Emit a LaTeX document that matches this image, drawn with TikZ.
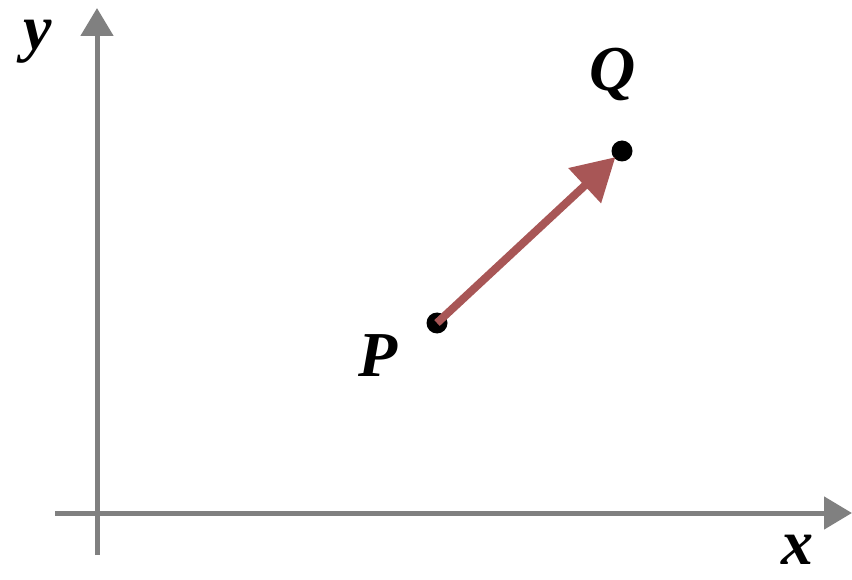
\documentclass[tikz,border=0pt]{standalone}
\usepackage{fontspec}
\setmainfont{Liberation Serif}
\usetikzlibrary{arrows.meta}
\definecolor{axisgray}{HTML}{808080}
\definecolor{vecred}{HTML}{A85656}
\tikzset{
  axis/.style={draw=axisgray, line width=5pt, -{Triangle[length=28pt,width=32pt]}},
  vec/.style={draw=vecred, line width=8pt, -{Triangle[length=42pt,width=46pt]}, shorten >=9pt},
  dot/.style={circle, fill=black, inner sep=0pt, minimum size=21pt},
  lab/.style={inner sep=0pt, font=\fontsize{64}{64}\selectfont\bfseries\itshape}
}
\begin{document}
\begin{tikzpicture}[x=1pt,y=-1pt]
\useasboundingbox (0,0) rectangle (852,580);
\coordinate (yb) at (97,555);
\coordinate (yt) at (97,8);
\coordinate (xl) at (55,513);
\coordinate (xr) at (852,513);
\draw[axis] (yb) -- (yt);
\draw[axis] (xl) -- (xr);
\node[dot] (P) at (437,323) {};
\node[dot] (Q) at (622,151) {};
\draw[vec] (P.center) -- (Q.center);
\node[lab] (ly) at (38,42) {y};
\node[lab] (lq) at (613,75) {Q};
\node[lab] (lp) at (378,356) {P};
\node[lab] (lx) at (797,550) {x};
\end{tikzpicture}
\end{document}
